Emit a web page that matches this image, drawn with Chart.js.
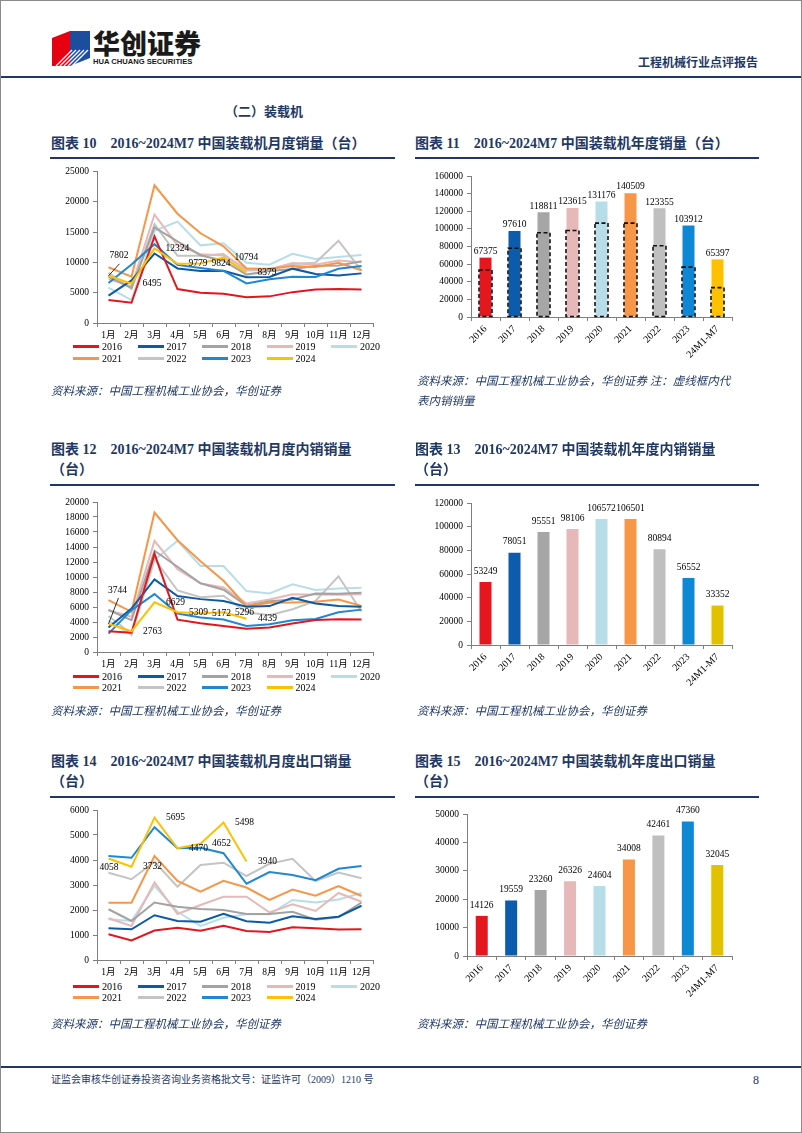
<!DOCTYPE html>
<html><head><meta charset="utf-8">
<script src="https://cdn.jsdelivr.net/npm/chart.js@4.4.1/dist/chart.umd.min.js"></script>
<style>
html,body{margin:0;padding:0;background:#fff;}
#page{position:relative;width:802px;height:1133px;overflow:hidden;font-family:"Liberation Serif","Noto Sans CJK SC",serif;}
#frame{position:absolute;left:0;top:0;width:800px;height:1131px;border:1px solid #8a8a8a;pointer-events:none;}
.abs{position:absolute;white-space:nowrap;}
.title{font-weight:bold;font-size:14px;color:#1F3864;line-height:20px;}
.rule{position:absolute;height:2px;background:#1F3864;}
.src{font-style:italic;font-size:11.5px;color:#1F3864;line-height:20px;}
canvas{position:absolute;}
.li{position:absolute;white-space:nowrap;height:12px;line-height:12px;font-size:10px;color:#000;}
.li i{display:inline-block;width:26px;height:2.5px;vertical-align:middle;margin-right:3px;position:relative;top:-1px;}
.gap{display:inline-block;width:14px;}
</style>
</head>
<body>
<div id="page">
  <svg class="abs" style="left:50px;top:28px" width="42" height="40" viewBox="0 0 42 40">
    <polygon points="2,10 20,3 20,38 2,38" fill="#E60012"/>
    <polygon points="20,3 40,3 40,30 20,38" fill="#1D4E9E"/>
    <g stroke="#fff" stroke-width="1.3">
      <line x1="6" y1="38" x2="22" y2="22"/>
      <line x1="10" y1="38" x2="26" y2="22"/>
      <line x1="14" y1="38" x2="30" y2="22"/>
      <line x1="18" y1="38" x2="34" y2="22"/>
      <line x1="22" y1="38" x2="38" y2="22"/>
    </g>
  </svg>
  <div class="abs" style="left:93px;top:27px;font-size:27px;font-weight:900;line-height:32px;color:#1a1a1a;font-family:'Noto Sans CJK SC',sans-serif;">华创证券</div>
  <div class="abs" style="left:93px;top:57px;font-size:7.6px;font-weight:bold;line-height:10px;color:#1a1a1a;font-family:'Liberation Sans',sans-serif;">HUA CHUANG SECURITIES</div>
  <div class="abs" style="left:638px;top:55px;font-size:12px;font-weight:bold;line-height:16px;color:#1F3864;">工程机械行业点评报告</div>
  <div class="rule" style="left:0;top:76px;width:802px;"></div>

  <div class="abs" style="left:225px;top:104px;font-size:13px;font-weight:bold;line-height:16px;color:#1F3864;">（二）装载机</div>

  <div class="abs title" style="left:51px;top:134px;">图表 10<span class="gap"></span>2016~2024M7 中国装载机月度销量（台）</div>
  <div class="abs title" style="left:415px;top:134px;">图表 11<span class="gap"></span>2016~2024M7 中国装载机年度销量（台）</div>
  <div class="rule" style="left:50px;top:157px;width:345px;"></div>
  <div class="rule" style="left:415px;top:157px;width:344px;"></div>

  <canvas id="c1" width="330" height="180" style="left:50px;top:162px;"></canvas>
  <canvas id="c2" width="340" height="210" style="left:410px;top:162px;"></canvas>
  <div id="lg1"></div>
  <div class="abs src" style="left:51px;top:381px;">资料来源：中国工程机械工业协会，华创证券</div>
  <div class="abs src" style="left:417px;top:371px;">资料来源：中国工程机械工业协会，华创证券 注：虚线框内代<br>表内销销量</div>

  <div class="abs title" style="left:51px;top:440px;">图表 12<span class="gap"></span>2016~2024M7 中国装载机月度内销销量<br>（台）</div>
  <div class="abs title" style="left:415px;top:440px;">图表 13<span class="gap"></span>2016~2024M7 中国装载机年度内销销量<br>（台）</div>
  <div class="rule" style="left:50px;top:484px;width:345px;"></div>
  <div class="rule" style="left:415px;top:484px;width:344px;"></div>

  <canvas id="c3" width="330" height="182" style="left:50px;top:488px;"></canvas>
  <canvas id="c4" width="340" height="210" style="left:410px;top:488px;"></canvas>
  <div id="lg3"></div>
  <div class="abs src" style="left:51px;top:701px;">资料来源：中国工程机械工业协会，华创证券</div>
  <div class="abs src" style="left:417px;top:701px;">资料来源：中国工程机械工业协会，华创证券</div>

  <div class="abs title" style="left:51px;top:752px;">图表 14<span class="gap"></span>2016~2024M7 中国装载机月度出口销量<br>（台）</div>
  <div class="abs title" style="left:415px;top:752px;">图表 15<span class="gap"></span>2016~2024M7 中国装载机年度出口销量<br>（台）</div>
  <div class="rule" style="left:50px;top:796px;width:345px;"></div>
  <div class="rule" style="left:415px;top:796px;width:344px;"></div>

  <canvas id="c5" width="330" height="182" style="left:50px;top:798px;"></canvas>
  <canvas id="c6" width="340" height="210" style="left:410px;top:798px;"></canvas>
  <div id="lg5"></div>
  <div class="abs src" style="left:51px;top:1014px;">资料来源：中国工程机械工业协会，华创证券</div>
  <div class="abs src" style="left:417px;top:1014px;">资料来源：中国工程机械工业协会，华创证券</div>

  <div class="rule" style="left:0;top:1066px;width:802px;"></div>
  <div class="abs" style="left:51px;top:1073px;font-size:10px;line-height:14px;color:#1F3864;">证监会审核华创证券投资咨询业务资格批文号：证监许可（2009）1210 号</div>
  <div class="abs" style="left:753px;top:1072px;font-size:12px;line-height:16px;color:#1F3864;">8</div>
  <div id="frame"></div>
</div>

<script>
// ---------- categories ----------
const months = ['1月','2月','3月','4月','5月','6月','7月','8月','9月','10月','11月','12月'];
const years = ['2016','2017','2018','2019','2020','2021','2022','2023','2024'];
const yearCats = ['2016','2017','2018','2019','2020','2021','2022','2023','24M1-M7'];

// ---------- 图表10 monthly total sales ----------
const total2016 = [3800, 3350, 14300, 5600, 5000, 4850, 4250, 4400, 5100, 5550, 5600, 5550];
const total2017 = [4530, 7030, 11480, 9020, 8580, 8640, 7580, 7610, 8980, 8110, 7850, 8200];
const total2018 = [7630, 5800, 15800, 13500, 11200, 10300, 8000, 8600, 8930, 9410, 9500, 10200];
const total2019 = [7250, 6050, 17920, 12870, 11350, 11150, 9000, 8900, 9930, 9610, 10330, 10030];
const total2020 = [5830, 3790, 15250, 16750, 12830, 13160, 9950, 9640, 11420, 10560, 10900, 11250];
const total2021 = [9210, 7650, 22760, 18060, 14830, 12670, 9020, 8960, 9430, 9270, 9960, 8710];
const total2022 = [8290, 5630, 16330, 11130, 11100, 11390, 8660, 8750, 9750, 9960, 13600, 8670];
const total2023 = [6610, 9670, 13030, 9600, 9090, 8600, 6530, 7220, 7640, 7590, 8950, 9410];
const total2024 = [7802, 6495, 12324, 9779, 9824, 10794, 8379];

// ---------- 图表12 monthly domestic sales ----------
const dom2016 = [2770, 2570, 13120, 4310, 3830, 3480, 3090, 3280, 3790, 4280, 4380, 4320];
const dom2017 = [3260, 5800, 9690, 7460, 7050, 6790, 6030, 6120, 7230, 6470, 6120, 6030];
const dom2018 = [5600, 4240, 13500, 11370, 9160, 8300, 6160, 6760, 7000, 7800, 7780, 7900];
const dom2019 = [5580, 4690, 14820, 11030, 9150, 8620, 6470, 7000, 7700, 7650, 7650, 7700];
const dom2020 = [4200, 2230, 12280, 14820, 11470, 11470, 8120, 7810, 9020, 8260, 8480, 8570];
const dom2021 = [6920, 5360, 18600, 14900, 12100, 9500, 6120, 6560, 6610, 6700, 7000, 6150];
const dom2022 = [4800, 2400, 12400, 8200, 7300, 7500, 5300, 4900, 5700, 6800, 10100, 5400];
const dom2023 = [2450, 5580, 7720, 5130, 4600, 4330, 3480, 3700, 4240, 4400, 5300, 5650];
const dom2024 = [3744, 2763, 6629, 5309, 5172, 5296, 4439];

// ---------- 图表14 monthly export sales ----------
const exp2016 = [1030, 780, 1180, 1290, 1170, 1370, 1160, 1120, 1310, 1270, 1220, 1230];
const exp2017 = [1270, 1230, 1790, 1560, 1530, 1850, 1550, 1490, 1750, 1640, 1730, 2170];
const exp2018 = [2030, 1560, 2300, 2130, 2040, 2000, 1840, 1840, 1930, 1610, 1720, 2300];
const exp2019 = [1670, 1360, 3100, 1840, 2200, 2530, 2530, 1900, 2230, 1960, 2680, 2330];
const exp2020 = [1630, 1560, 2970, 1930, 1360, 1690, 1830, 1830, 2400, 2300, 2420, 2680];
const exp2021 = [2290, 2290, 4160, 3160, 2730, 3170, 2900, 2400, 2820, 2570, 2960, 2560];
const exp2022 = [3490, 3230, 3930, 2930, 3800, 3890, 3360, 3850, 4050, 3160, 3500, 3270];
const exp2023 = [4160, 4090, 5310, 4470, 4490, 4270, 3050, 3520, 3400, 3190, 3650, 3760];
const exp2024 = [4058, 3732, 5695, 4470, 4652, 5498, 3940];

// ---------- annual ----------
const totalYear = [67375, 97610, 118811, 123615, 131176, 140509, 123355, 103912, 65397];
const domYear = [53249, 78051, 95551, 98106, 106572, 106501, 80894, 56552, 33352];
const expYear = [14126, 19559, 23260, 26326, 24604, 34008, 42461, 47360, 32045];

// ---------- styles ----------
const lineColors = ['#E3161E','#0C5AA6','#A3A3A3','#E6B9B8','#B7DEE8','#F79646','#C4C4C4','#1E88D2','#FFC000'];
const drawOrder = [1,3,5,6,8,4,7,2,0];
const barColorsA = ['#E4161E','#0B5CAD','#A6A6A6','#E6B9B8','#B7DEE8','#F79646','#BFBFBF','#0E87D5','#FFC000'];
const barColorsB = ['#E4161E','#0B5CAD','#A6A6A6','#E6B9B8','#B7DEE8','#F79646','#BFBFBF','#0E87D5','#E2C100'];
const AXIS = '#7f7f7f';
const FONT = '"Liberation Serif","Noto Sans CJK SC",serif';

Chart.defaults.font.family = FONT;
Chart.defaults.font.size = 9.5;
Chart.defaults.color = '#000';
Chart.defaults.animation = false;

function fixW(w){ return s => { s.width = w; }; }
function fixH(h){ return s => { s.height = h; }; }

const ptLabels = {
  id: 'ptLabels',
  afterDatasetsDraw(chart, args, o) {
    if (!o || o.ds === undefined) return;
    const meta = chart.getDatasetMeta(o.ds);
    const vals = chart.data.datasets[o.ds].data;
    const ctx = chart.ctx;
    ctx.save();
    ctx.font = '9.5px ' + FONT;
    ctx.fillStyle = '#000';
    ctx.textBaseline = 'middle';
    meta.data.forEach((el, i) => {
      const sp = o.special && o.special[i];
      const txt = String(vals[i]);
      if (sp) {
        ctx.textAlign = 'center';
        ctx.fillText(txt, el.x + sp.dx, el.y + sp.dy);
        if (sp.leader) {
          ctx.strokeStyle = '#000'; ctx.lineWidth = 0.8;
          ctx.beginPath(); ctx.moveTo(el.x, el.y); ctx.lineTo(el.x + sp.leader[0], el.y + sp.leader[1]); ctx.stroke();
        }
      } else {
        ctx.textAlign = 'left';
        ctx.fillText(txt, el.x + o.dx, el.y);
      }
    });
    ctx.restore();
  }
};

const dashBox = {
  id: 'dashBox',
  afterDatasetsDraw(chart, args, o) {
    if (!o || o.ds === undefined) return;
    const meta = chart.getDatasetMeta(o.ds);
    const ctx = chart.ctx;
    ctx.save();
    ctx.setLineDash([4, 2.5]);
    ctx.lineWidth = 1.6;
    ctx.strokeStyle = '#111';
    meta.data.forEach(el => {
      const w = el.width + 1;
      ctx.strokeRect(el.x - w / 2, el.y, w, el.base - el.y);
    });
    ctx.restore();
  }
};

const barLabels = {
  id: 'barLabels',
  afterDatasetsDraw(chart, args, o) {
    const meta = chart.getDatasetMeta(0);
    const vals = chart.data.datasets[0].data;
    const ctx = chart.ctx;
    ctx.save();
    ctx.font = '9.5px ' + FONT;
    ctx.fillStyle = '#000';
    ctx.textAlign = 'center';
    ctx.textBaseline = 'bottom';
    meta.data.forEach((el, i) => ctx.fillText(String(vals[i]), el.x, el.y - o.gap));
    ctx.restore();
  }
};

function lineChart(id, series, yMax, step, geo, lbl) {
  const datasets = series.map((d, i) => ({
    label: years[i], data: d, borderColor: lineColors[i], backgroundColor: lineColors[i],
    borderWidth: 2, pointRadius: 0, tension: 0, order: drawOrder[i]
  }));
  new Chart(document.getElementById(id), {
    type: 'line',
    data: { labels: months, datasets },
    options: {
      responsive: false, animation: false,
      layout: { padding: { top: geo.top, right: geo.right, left: 0, bottom: 0 } },
      plugins: { legend: { display: false }, tooltip: { enabled: false }, ptLabels: lbl },
      scales: {
        x: { offset: true,
             grid: { offset: true, drawOnChartArea: false, tickLength: 4, color: AXIS },
             border: { color: AXIS },
             ticks: { padding: 3, maxRotation: 0, autoSkip: false, font: { size: 9.5 } },
             afterFit: fixH(geo.xh) },
        y: { min: 0, max: yMax,
             ticks: { stepSize: step, padding: 4, callback: v => String(v) },
             grid: { drawOnChartArea: false, tickLength: 4, color: AXIS },
             border: { color: AXIS },
             afterFit: fixW(geo.yw) }
      }
    },
    plugins: [ptLabels]
  });
}

function barChart(id, vals, cols, yMax, step, geo, gap, inner) {
  const common = { grouped: false, categoryPercentage: 0.42, barPercentage: 1, maxBarThickness: 12 };
  const datasets = [Object.assign({ data: vals, backgroundColor: cols, order: 1 }, common)];
  if (inner) datasets.push(Object.assign({ data: inner, backgroundColor: 'rgba(0,0,0,0)', order: 0 }, common));
  new Chart(document.getElementById(id), {
    type: 'bar',
    data: { labels: yearCats, datasets },
    options: {
      responsive: false, animation: false,
      layout: { padding: { top: geo.top, right: geo.right, left: 0, bottom: 0 } },
      plugins: { legend: { display: false }, tooltip: { enabled: false },
                 dashBox: inner ? { ds: 1 } : {}, barLabels: { gap } },
      scales: {
        x: { grid: { offset: true, drawOnChartArea: false, tickLength: 4, color: AXIS },
             border: { color: AXIS },
             ticks: { minRotation: 45, maxRotation: 45, autoSkip: false, padding: 2, font: { size: 10 } },
             afterFit: fixH(geo.xh) },
        y: { min: 0, max: yMax,
             ticks: { stepSize: step, padding: 4, callback: v => String(v) },
             grid: { drawOnChartArea: false, tickLength: 4, color: AXIS },
             border: { color: AXIS },
             afterFit: fixW(geo.yw) }
      }
    },
    plugins: [dashBox, barLabels]
  });
}

function legend(id, top1, top2) {
  const host = document.getElementById(id);
  years.forEach((y, i) => {
    const d = document.createElement('div');
    d.className = 'li';
    d.style.left = (73 + (i % 5) * 64.5) + 'px';
    d.style.top = (i < 5 ? top1 : top2) + 'px';
    d.innerHTML = '<i style="background:' + lineColors[i] + '"></i>' + y;
    host.appendChild(d);
  });
}

lineChart('c1', [total2016,total2017,total2018,total2019,total2020,total2021,total2022,total2023,total2024],
  25000, 5000, { top: 9, right: 7, yw: 47, xh: 19 },
  { ds: 8, dx: 11, special: { 0: { dx: 10.5, dy: -20, leader: [11, -12] } } });
lineChart('c3', [dom2016,dom2017,dom2018,dom2019,dom2020,dom2021,dom2022,dom2023,dom2024],
  20000, 2000, { top: 14, right: 7, yw: 47, xh: 18 },
  { ds: 8, dx: 11.5, special: { 0: { dx: 9, dy: -33, leader: [10, -26] } } });
lineChart('c5', [exp2016,exp2017,exp2018,exp2019,exp2020,exp2021,exp2022,exp2023,exp2024],
  6000, 1000, { top: 12, right: 7, yw: 47, xh: 20 },
  { ds: 8, dx: 11.5, special: { 0: { dx: 0.5, dy: 9 } } });

barChart('c2', totalYear, barColorsA, 160000, 20000, { top: 14, right: 18, yw: 61, xh: 55 }, 1.5, domYear);
barChart('c4', domYear, barColorsB, 120000, 20000, { top: 15, right: 18, yw: 61, xh: 53 }, 6);
barChart('c6', expYear, barColorsB, 50000, 5000, { top: 16, right: 18, yw: 57, xh: 52 }, 6);

legend('lg1', 341, 353);
legend('lg3', 671, 682);
legend('lg5', 981, 992);
</script>
</body></html>
